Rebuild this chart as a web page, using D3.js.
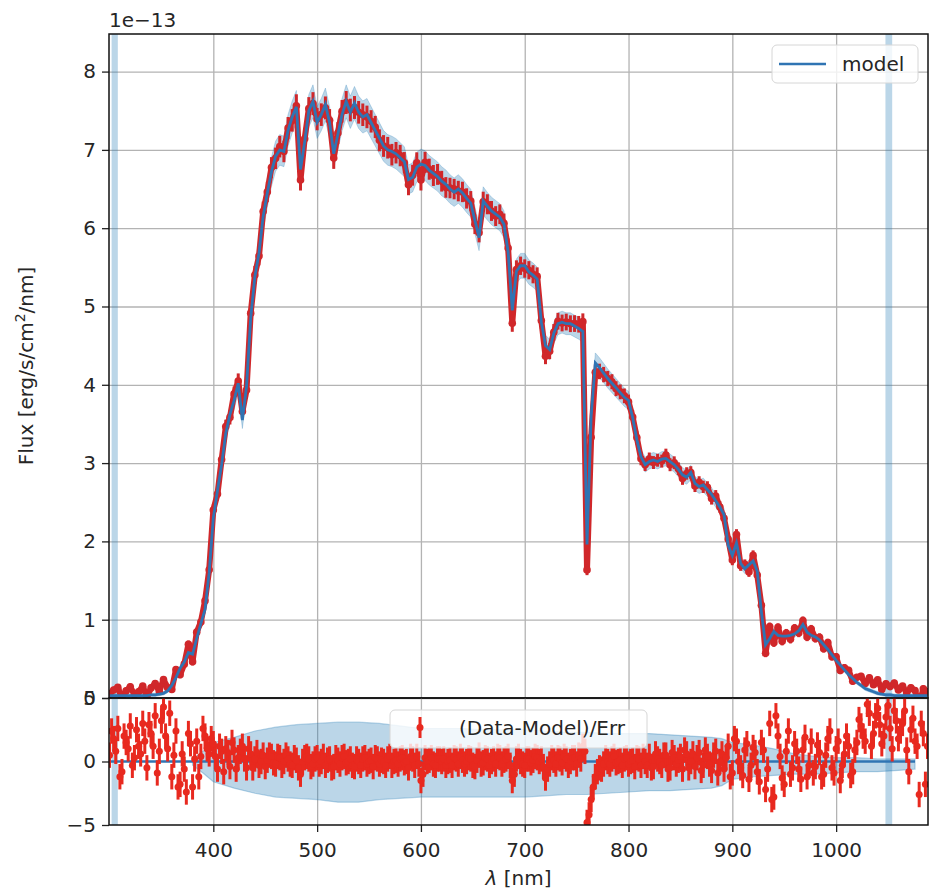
<!DOCTYPE html>
<html>
<head>
<meta charset="utf-8">
<script src="https://cdn.jsdelivr.net/npm/d3@7"></script>
<style>
  body { margin: 0; background: #fff; }
  text { font-family: "DejaVu Sans", sans-serif; fill: #262626; }
</style>
</head>
<body>
<script>
var width = 929, height = 894;

// wavelength grid of the spectrum (nm)
var lamStart = 300, lamStep = 4;

// model flux in units of 1e-13 erg/s/cm2/nm, one value per grid step
var modelFlux = [
  0.03,0.03,0.03,0.03,0.03,0.03,0.03,0.03,0.03,0.03,
  0.04,0.04,0.05,0.06,0.09,0.16,0.26,0.38,0.46,0.58,
  0.56,0.76,0.95,1.13,1.6,2.3,2.65,2.98,3.38,3.62,
  3.8,4.02,3.55,3.98,4.85,5.38,5.68,6.15,6.45,6.72,
  6.92,7.0,6.98,7.25,7.42,7.55,6.75,7.1,7.5,7.62,
  7.35,7.45,7.58,7.35,6.95,7.2,7.45,7.62,7.48,7.6,
  7.48,7.42,7.45,7.35,7.25,7.15,7.05,7.0,6.98,6.95,
  6.9,6.85,6.62,6.65,6.78,6.82,6.8,6.74,6.7,6.66,
  6.6,6.56,6.5,6.46,6.5,6.45,6.38,6.32,6.1,5.88,
  6.35,6.28,6.22,6.18,6.14,6.05,5.7,4.95,5.45,5.52,
  5.52,5.44,5.4,5.35,4.8,4.5,4.45,4.66,4.78,4.8,
  4.78,4.78,4.75,4.72,4.68,1.96,3.6,4.28,4.22,4.15,
  4.08,4.02,3.96,3.9,3.84,3.8,3.58,3.3,3.08,2.98,
  3.02,3.04,3.02,3.05,3.06,3.02,2.98,2.92,2.85,2.82,
  2.88,2.74,2.7,2.72,2.66,2.6,2.52,2.44,2.34,1.95,
  1.82,1.98,1.72,1.65,1.7,1.75,1.62,1.1,0.68,0.76,
  0.85,0.8,0.79,0.79,0.8,0.82,0.86,0.94,0.84,0.8,
  0.78,0.74,0.68,0.62,0.55,0.48,0.42,0.36,0.3,0.25,
  0.2,0.16,0.12,0.1,0.08,0.06,0.05,0.04,0.04,0.03,
  0.03,0.03,0.03,0.03,0.03,0.03,0.03,0.03
];

// (Data-Model)/Err on the same grid
var resid = [
  0.5,1.8,2.6,-0.8,1.5,2.8,0.3,1.2,3.0,-0.5,
  2.2,3.6,0.8,4.3,1.0,-1.2,2.4,-1.8,-0.6,2.2,
  -2.0,1.6,0.4,2.0,0.6,1.4,-0.6,0.8,1.0,-0.4,
  0.9,0.3,1.2,-0.5,0.6,0.2,-0.3,0.5,0.1,0.4,
  -0.2,0.3,0.0,0.2,-0.3,0.1,-1.0,0.3,0.2,-0.2,
  0.3,0.0,-0.3,0.2,-0.4,0.1,0.3,-0.1,0.2,-0.4,
  0.0,0.2,-0.2,0.1,0.3,-0.2,0.0,0.2,-0.3,0.1,
  0.2,-0.1,-0.5,0.2,0.4,-1.5,0.3,0.1,-0.2,0.2,
  0.0,-0.3,0.1,0.3,-0.2,0.1,0.0,0.2,-0.4,0.5,
  -0.1,0.2,0.0,-0.2,0.3,0.1,0.4,-1.5,0.2,0.0,
  -0.3,0.2,0.1,0.3,0.2,-1.3,-0.2,0.1,0.3,-0.1,
  0.2,0.0,0.3,0.5,1.2,-4.8,-3.0,-1.2,-0.5,-0.2,
  0.0,0.2,-0.1,0.1,0.2,-0.2,0.1,0.3,-0.3,0.0,
  0.4,-0.4,0.2,-0.3,0.5,-0.5,0.3,0.1,-0.6,0.6,
  0.0,-0.4,0.7,-0.3,0.4,-0.7,0.8,0.0,-0.6,1.2,
  -0.9,1.6,-0.5,0.9,-1.4,1.1,-0.8,1.5,-2.2,3.0,
  -2.8,2.0,-1.3,0.8,-1.0,1.4,-0.6,0.9,-1.2,1.6,
  -0.4,0.7,-1.0,1.8,-0.5,1.0,-1.5,0.6,1.2,-0.8,
  1.5,2.8,1.6,3.8,2.2,4.2,1.4,3.5,2.6,4.0,
  1.8,3.0,0.9,2.5,1.6,-2.6,2.2,1.2
];

// (Data-Model)/Err at the in-between wavelengths 302, 306, ... 1086 nm
var residMid = [
  2.4,0.8,-1.2,2.0,1.0,-0.3,2.5,0.6,1.6,2.9,
  1.2,-0.9,3.2,2.0,3.8,0.5,-2.0,0.6,-2.4,1.4,
  0.2,-1.2,2.6,1.0,1.8,0.4,1.2,-0.8,0.7,1.5,
  -0.6,0.8,0.2,1.0,-0.5,0.7,0.0,-0.4,0.5,-0.1,
  0.4,-0.3,0.5,-0.2,0.3,-0.5,0.0,0.4,-0.4,0.2,
  -0.2,0.4,0.1,-0.5,0.3,-0.2,0.4,0.0,-0.3,0.2,
  -0.3,0.3,0.0,-0.4,0.2,0.1,-0.3,0.4,0.0,-0.2,
  0.3,0.0,0.4,-0.3,-0.2,-1.0,0.0,0.3,-0.3,0.2,
  0.2,0.0,-0.3,0.2,0.4,-0.2,0.3,-0.3,0.1,-0.2,
  0.3,-0.3,0.2,0.4,-0.2,0.2,-0.3,-1.0,0.4,-0.2,
  0.2,-0.1,0.4,0.0,-0.4,-0.6,0.3,-0.2,0.2,0.4,
  -0.3,0.3,-0.2,0.2,0.8,-4.2,-2.0,-0.8,-0.6,0.3,
  -0.2,0.4,0.0,-0.3,0.3,0.0,-0.4,0.2,0.4,-0.3,
  -0.5,0.6,0.0,0.5,-0.6,0.7,-0.2,0.4,0.9,-0.5,
  0.6,0.3,-0.7,0.9,-0.2,0.5,-0.9,0.6,0.3,-1.2,
  1.8,0.0,-1.1,1.4,-0.3,0.7,-1.6,0.9,-0.6,-3.0,
  3.6,0.4,-1.8,2.4,-0.5,0.8,-1.4,1.9,-0.3,-0.9,
  1.3,-1.2,0.5,2.4,-0.9,1.6,-0.3,2.0,-1.1,0.9,
  3.3,2.0,4.5,1.2,3.6,2.9,2.0,4.4,1.0,3.2,
  2.4,4.0,-0.8,3.4,1.2,3.0,-1.8
];

// model uncertainty band in the residual panel
var bandLam = [380,390,400,420,440,460,480,500,520,540,560,580,600,620,640,660,680,700,720,740,760,780,800,820,840,860,880,890,900,920,940,960,980,1000,1020,1040,1060,1076];
var bandHi  = [0.2,0.8,1.5,1.9,2.4,2.7,2.9,3.0,3.1,3.1,3.0,2.8,2.6,2.6,2.6,2.5,2.5,2.5,2.4,2.3,2.3,2.2,2.2,2.2,2.1,2.0,1.9,1.8,1.5,1.3,1.0,0.6,0.4,0.3,0.3,0.2,0.2,0.2];
var bandLo  = [-0.3,-0.9,-1.6,-2.1,-2.5,-2.8,-2.9,-3.0,-3.2,-3.2,-3.0,-2.9,-2.8,-2.8,-2.8,-2.8,-2.8,-2.8,-2.7,-2.6,-2.6,-2.5,-2.4,-2.3,-2.3,-2.2,-2.1,-1.9,-1.4,-1.2,-1.1,-1.0,-1.0,-0.9,-0.8,-0.8,-0.7,-0.6];

var maskSpans = [[302, 308], [1047.5, 1054]];
var zeroLine = [300, 1076];
var xTicks = [400, 500, 600, 700, 800, 900, 1000];
var fluxTicks = [0, 1, 2, 3, 4, 5, 6, 7, 8];
var residTicks = [-5, 0, 5];

var lam = modelFlux.map(function(d, i) { return lamStart + i * lamStep; });
function fluxErr(m) { return 0.04 + 0.014 * m; }

var points = lam.map(function(l, i) {
  var e = fluxErr(modelFlux[i]);
  return { lam: l, model: modelFlux[i], err: e, data: modelFlux[i] + resid[i] * e, resid: resid[i] };
});
var residPts = points.map(function(p) { return { lam: p.lam, resid: p.resid }; })
  .concat(residMid.map(function(r, i) { return { lam: lamStart + lamStep / 2 + i * lamStep, resid: r }; }))
  .sort(function(a, b) { return a.lam - b.lam; });
var band = bandLam.map(function(l, i) { return { lam: l, hi: bandHi[i], lo: bandLo[i] }; });

var left = 109, right = 928, topY = 34, midY = 698, botY = 825;

var x = d3.scaleLinear().domain([299.5, 1088.5]).range([left, right]);
var yTop = d3.scaleLinear().domain([0, 8.48]).range([midY, topY]);
var yBot = d3.scaleLinear().domain([-5, 5]).range([botY, midY]);

var blue = "#2f74b3", red = "#e8291f", darkRed = "#d0272a", grid = "#b3b3b3";

var svg = d3.select("body").append("svg")
    .attr("width", width)
    .attr("height", height)
    .style("font-family", "DejaVu Sans, sans-serif");

var defs = svg.append("defs");
defs.append("clipPath").attr("id", "clipTop").append("rect")
    .attr("x", left).attr("y", topY).attr("width", right - left).attr("height", midY - topY);
defs.append("clipPath").attr("id", "clipBot").append("rect")
    .attr("x", left).attr("y", midY).attr("width", right - left).attr("height", botY - midY);

// ---------- top panel ----------
var topG = svg.append("g");

topG.append("g")
    .attr("transform", "translate(0," + midY + ")")
    .call(d3.axisBottom(x).tickValues(xTicks).tickSize(-(midY - topY)).tickFormat(""))
    .call(function(g) { g.select(".domain").remove(); g.selectAll("line").attr("stroke", grid).attr("stroke-width", 1.3); });
topG.append("g")
    .attr("transform", "translate(" + left + ",0)")
    .call(d3.axisLeft(yTop).tickValues(fluxTicks).tickSize(-(right - left)).tickFormat(""))
    .call(function(g) { g.select(".domain").remove(); g.selectAll("line").attr("stroke", grid).attr("stroke-width", 1.3); });

var topPlot = topG.append("g").attr("clip-path", "url(#clipTop)");

topPlot.selectAll("rect.mask").data(maskSpans).enter().append("rect")
    .attr("class", "mask")
    .attr("x", function(d) { return x(d[0]); })
    .attr("width", function(d) { return x(d[1]) - x(d[0]); })
    .attr("y", topY).attr("height", midY - topY)
    .attr("fill", "#1f77b4").attr("fill-opacity", 0.3);

topPlot.append("path")
    .datum(points)
    .attr("d", d3.area()
        .x(function(d) { return x(d.lam); })
        .y0(function(d) { return yTop(d.model - 0.025 * d.model - 0.02); })
        .y1(function(d) { return yTop(d.model + 0.025 * d.model + 0.02); }))
    .attr("fill", "#1f77b4").attr("fill-opacity", 0.3)
    .attr("stroke", "#1f77b4").attr("stroke-opacity", 0.25);

// dense data run as a thick trace behind the markers
topPlot.append("path")
    .datum(points)
    .attr("d", d3.line().x(function(d) { return x(d.lam); }).y(function(d) { return yTop(d.data); }))
    .attr("fill", "none").attr("stroke", darkRed).attr("stroke-width", 6)
    .attr("stroke-linejoin", "round");

topPlot.selectAll("line.err").data(points).enter().append("line")
    .attr("class", "err")
    .attr("x1", function(d) { return x(d.lam); })
    .attr("x2", function(d) { return x(d.lam); })
    .attr("y1", function(d) { return yTop(d.data - d.err); })
    .attr("y2", function(d) { return yTop(d.data + d.err); })
    .attr("stroke", darkRed).attr("stroke-width", 3);
topPlot.selectAll("circle.pt").data(points).enter().append("circle")
    .attr("class", "pt")
    .attr("cx", function(d) { return x(d.lam); })
    .attr("cy", function(d) { return yTop(d.data); })
    .attr("r", 3.8)
    .attr("fill", darkRed);

topPlot.append("path")
    .datum(points)
    .attr("d", d3.line().x(function(d) { return x(d.lam); }).y(function(d) { return yTop(d.model); }))
    .attr("fill", "none").attr("stroke", blue).attr("stroke-width", 2.8);

topG.append("g")
    .attr("transform", "translate(" + left + ",0)")
    .call(d3.axisLeft(yTop).tickValues(fluxTicks).tickSize(7).tickPadding(6).tickFormat(d3.format("d")))
    .call(function(g) {
      g.select(".domain").remove();
      g.selectAll("line").attr("stroke", "#222").attr("stroke-width", 1.3);
      g.selectAll("text").attr("font-size", 20).attr("fill", "#262626").style("font-family", "DejaVu Sans");
    });

topG.append("text")
    .attr("x", left).attr("y", 27)
    .attr("font-size", 20)
    .text("1e\u221213");

topG.append("text")
    .attr("transform", "translate(33," + ((topY + midY) / 2) + ") rotate(-90)")
    .attr("text-anchor", "middle")
    .attr("font-size", 20)
    .call(function(t) {
      t.append("tspan").text("Flux [erg/s/cm");
      t.append("tspan").attr("font-size", 14).attr("dy", -8).text("2");
      t.append("tspan").attr("dy", 8).text("/nm]");
    });

topG.append("rect")
    .attr("x", left).attr("y", topY).attr("width", right - left).attr("height", midY - topY)
    .attr("fill", "none").attr("stroke", "#111").attr("stroke-width", 1.5);

// legend
var lg = topG.append("g");
lg.append("rect")
    .attr("x", 772).attr("y", 45).attr("width", 146).attr("height", 38).attr("rx", 5)
    .attr("fill", "#fff").attr("fill-opacity", 0.8).attr("stroke", "#d6d6d6");
lg.append("line")
    .attr("x1", 779).attr("x2", 826).attr("y1", 64).attr("y2", 64)
    .attr("stroke", blue).attr("stroke-width", 2.6);
lg.append("text").attr("x", 842).attr("y", 71).attr("font-size", 20).text("model");

// ---------- bottom panel ----------
var botG = svg.append("g");

botG.append("g")
    .attr("transform", "translate(0," + botY + ")")
    .call(d3.axisBottom(x).tickValues(xTicks).tickSize(-(botY - midY)).tickFormat(""))
    .call(function(g) { g.select(".domain").remove(); g.selectAll("line").attr("stroke", grid).attr("stroke-width", 1.3); });

var botPlot = botG.append("g").attr("clip-path", "url(#clipBot)");

botPlot.selectAll("rect.mask").data(maskSpans).enter().append("rect")
    .attr("class", "mask")
    .attr("x", function(d) { return x(d[0]); })
    .attr("width", function(d) { return x(d[1]) - x(d[0]); })
    .attr("y", midY).attr("height", botY - midY)
    .attr("fill", "#1f77b4").attr("fill-opacity", 0.3);

botPlot.append("path")
    .datum(band)
    .attr("d", d3.area()
        .x(function(d) { return x(d.lam); })
        .y0(function(d) { return yBot(d.lo); })
        .y1(function(d) { return yBot(d.hi); }))
    .attr("fill", "#1f77b4").attr("fill-opacity", 0.3)
    .attr("stroke", "#1f77b4").attr("stroke-opacity", 0.3).attr("stroke-width", 1.2);

botPlot.append("path")
    .datum(zeroLine)
    .attr("d", d3.line().x(function(d) { return x(d); }).y(function() { return yBot(0); }))
    .attr("stroke", blue).attr("stroke-width", 2.6);

botPlot.selectAll("line.err").data(residPts).enter().append("line")
    .attr("class", "err")
    .attr("x1", function(d) { return x(d.lam); })
    .attr("x2", function(d) { return x(d.lam); })
    .attr("y1", function(d) { return yBot(d.resid - 1); })
    .attr("y2", function(d) { return yBot(d.resid + 1); })
    .attr("stroke", red).attr("stroke-width", 3);
botPlot.selectAll("circle.pt").data(residPts).enter().append("circle")
    .attr("class", "pt")
    .attr("cx", function(d) { return x(d.lam); })
    .attr("cy", function(d) { return yBot(d.resid); })
    .attr("r", 3.5)
    .attr("fill", red);

botG.append("g")
    .attr("transform", "translate(" + left + ",0)")
    .call(d3.axisLeft(yBot).tickValues(residTicks).tickSize(7).tickPadding(6).tickFormat(d3.format("d")))
    .call(function(g) {
      g.select(".domain").remove();
      g.selectAll("line").attr("stroke", "#222").attr("stroke-width", 1.3);
      g.selectAll("text").attr("font-size", 20).attr("fill", "#262626").style("font-family", "DejaVu Sans")
        .text(function(d) { return d < 0 ? "\u2212" + Math.abs(d) : d; });
    });

botG.append("g")
    .attr("transform", "translate(0," + botY + ")")
    .call(d3.axisBottom(x).tickValues(xTicks).tickSize(7).tickPadding(11).tickFormat(d3.format("d")))
    .call(function(g) {
      g.select(".domain").remove();
      g.selectAll("line").attr("stroke", "#222").attr("stroke-width", 1.3);
      g.selectAll("text").attr("font-size", 20).attr("fill", "#262626").style("font-family", "DejaVu Sans");
    });

botG.append("text")
    .attr("x", (left + right) / 2).attr("y", 885)
    .attr("text-anchor", "middle")
    .attr("font-size", 20)
    .call(function(t) {
      t.append("tspan").attr("font-style", "italic").text("\u03bb");
      t.append("tspan").text(" [nm]");
    });

botG.append("rect")
    .attr("x", left).attr("y", midY).attr("width", right - left).attr("height", botY - midY)
    .attr("fill", "none").attr("stroke", "#111").attr("stroke-width", 1.5);

var lg2 = botG.append("g");
lg2.append("rect")
    .attr("x", 390).attr("y", 710).attr("width", 257).attr("height", 38).attr("rx", 5)
    .attr("fill", "#fff").attr("fill-opacity", 0.8).attr("stroke", "#d6d6d6");
lg2.append("line")
    .attr("x1", 420).attr("x2", 420).attr("y1", 717).attr("y2", 738)
    .attr("stroke", red).attr("stroke-width", 3);
lg2.append("circle").attr("cx", 420).attr("cy", 727.5).attr("r", 3.5).attr("fill", red);
lg2.append("text").attr("x", 459).attr("y", 735).attr("font-size", 20).text("(Data-Model)/Err");
</script>
</body>
</html>
